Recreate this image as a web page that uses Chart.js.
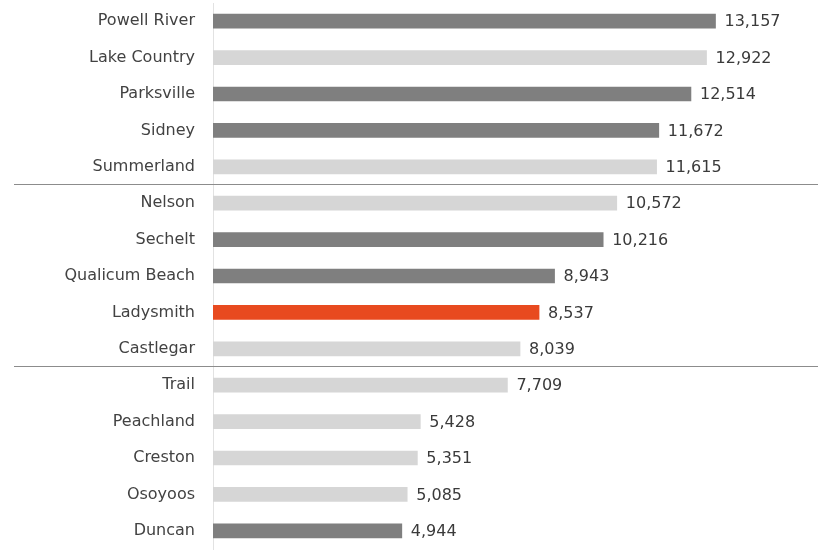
<!DOCTYPE html>
<html>
<head>
<meta charset="utf-8">
<script src="https://cdn.jsdelivr.net/npm/chart.js@4.4.1/dist/chart.umd.min.js"></script>
<style>
  html, body { margin: 0; padding: 0; background: #ffffff; overflow: hidden; }
  canvas { display: block; }
</style>
</head>
<body>
<canvas id="chart" width="818" height="550"></canvas>
<script>
// Communities, ranked by population
const communities = [
  'Powell River', 'Lake Country', 'Parksville', 'Sidney', 'Summerland',
  'Nelson', 'Sechelt', 'Qualicum Beach', 'Ladysmith', 'Castlegar',
  'Trail', 'Peachland', 'Creston', 'Osoyoos', 'Duncan'
];
const population = [
  13157, 12922, 12514, 11672, 11615,
  10572, 10216, 8943, 8537, 8039,
  7709, 5428, 5351, 5085, 4944
];
// Bar shading group for each community
const shade = [
  'dark', 'light', 'dark', 'dark', 'light',
  'light', 'dark', 'dark', 'focus', 'light',
  'light', 'light', 'light', 'light', 'dark'
];
// Group dividers fall between these category positions
const dividers = [4.5, 9.5];

const palette = { dark: '#7f7f7f', light: '#d6d6d6', focus: '#e84a1f' };
const FONT = "'DejaVu Sans', sans-serif";

// Value text at the end of each bar
const valueLabels = {
  id: 'valueLabels',
  afterDatasetsDraw(chart) {
    const ctx = chart.ctx;
    const meta = chart.getDatasetMeta(0);
    ctx.save();
    ctx.font = '16px ' + FONT;
    ctx.fillStyle = '#3a3a3a';
    ctx.textAlign = 'left';
    ctx.textBaseline = 'middle';
    meta.data.forEach((bar, i) => {
      ctx.fillText(population[i].toLocaleString('en-US'), bar.x + 9, bar.y + 1);
    });
    ctx.restore();
  }
};

// Thin rules separating the groups, running under the labels too
const groupDividers = {
  id: 'groupDividers',
  afterDraw(chart) {
    const ctx = chart.ctx;
    const y = chart.scales.y;
    ctx.save();
    ctx.strokeStyle = '#8c8c8c';
    ctx.lineWidth = 1;
    dividers.forEach(v => {
      const py = Math.round(y.getPixelForValue(v)) - 0.5;
      ctx.beginPath();
      ctx.moveTo(14, py);
      ctx.lineTo(chart.width, py);
      ctx.stroke();
    });
    ctx.restore();
  }
};

new Chart(document.getElementById('chart'), {
  type: 'bar',
  data: {
    labels: communities,
    datasets: [{
      data: population,
      backgroundColor: shade.map(s => palette[s]),
      barThickness: 14,
      borderWidth: 0
    }]
  },
  options: {
    indexAxis: 'y',
    responsive: false,
    animation: false,
    layout: { padding: { top: 3, bottom: 1, left: 0, right: 13 } },
    plugins: { legend: { display: false }, tooltip: { enabled: false } },
    scales: {
      x: { display: false, min: 0, max: 15500 },
      y: {
        grid: { display: false },
        border: { display: true, color: '#e2e2e2', width: 1 },
        ticks: { color: '#424242', padding: 10, font: { family: FONT, size: 16 } },
        afterFit(scale) {
          scale.width = 213;
          scale.paddingTop = 0;
          scale.paddingBottom = 0;
        }
      }
    }
  },
  plugins: [valueLabels, groupDividers]
});
</script>
</body>
</html>
